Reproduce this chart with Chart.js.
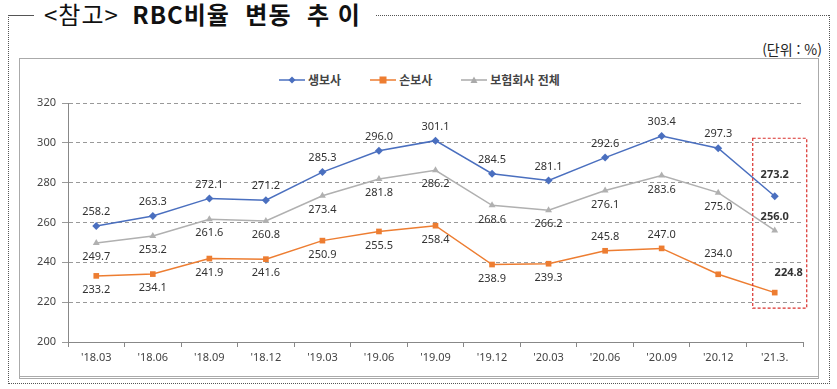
<!DOCTYPE html>
<html lang="ko">
<head>
<meta charset="UTF-8" />
<title>RBC비율 변동 추이</title>
<script src="https://cdn.jsdelivr.net/npm/chart.js"></script>
<style>
  body { margin: 0; background: #fff; font-family: "Noto Sans CJK KR", "Noto Sans", sans-serif; }
  #page { position: relative; width: 837px; height: 389px; overflow: hidden; }
  .frame { position: absolute; left: 8px; top: 15px; width: 820px; height: 368px;
           border-left: 1px dotted #555; border-right: 1px dotted #555; border-bottom: 1px dotted #555; }
  .topline-l { position: absolute; left: 8px; top: 15px; width: 26px; border-top: 1px solid #555; }
  .topline-r { position: absolute; left: 376px; top: 15px; width: 453px; border-top: 1px dotted #555; }
  .title { position: absolute; left: 44px; top: -1px; font-size: 24px; line-height: 30px; color: #111; white-space: pre; }
  .title .ref { letter-spacing: 1px; }
  .title b { font-weight: 700; letter-spacing: 1px; }
  .unit { position: absolute; right: 15px; top: 39px; font-size: 14px; color: #222; }
  .inner { position: absolute; left: 19px; top: 58px; width: 798px; height: 317px; border: 1px solid #aaa; border-bottom: 3px double #aaa; }
  .legend { position: absolute; top: 71px; left: 279px; font-size: 12px; font-weight: 700; color: #444; display: flex; }
  .legend span { display: flex; align-items: center; margin-right: 29px; }
  .legend svg { margin-right: 3px; }
  canvas { position: absolute; left: 0; top: 0; }
</style>
</head>
<body>
<div id="page">
  <div class="frame"></div>
  <div class="topline-l"></div>
  <div class="topline-r"></div>
  <div class="title"><span class="ref">&lt;참고&gt;</span>  <b>RBC비율  변동  추 이</b></div>
  <div class="unit">(단위 : %)</div>
  <div class="inner"></div>
  <div class="legend">
    <span><svg width="26" height="10"><line x1="0" y1="5" x2="26" y2="5" stroke="#4a6fbf" stroke-width="1.5"/><path d="M13 1.5 L16.5 5 L13 8.5 L9.5 5 Z" fill="#4a6fbf"/></svg>생보사</span>
    <span><svg width="26" height="10"><line x1="0" y1="5" x2="26" y2="5" stroke="#ed7d31" stroke-width="1.5"/><rect x="9.5" y="1.5" width="7" height="7" fill="#ed7d31"/></svg>손보사</span>
    <span><svg width="26" height="10"><line x1="0" y1="5" x2="26" y2="5" stroke="#aaa" stroke-width="1.5"/><path d="M13 1.5 L16.5 8 L9.5 8 Z" fill="#aaa"/></svg>보험회사 전체</span>
  </div>
  <canvas id="rbcChart" width="837" height="389"></canvas>
</div>

<script>
  const labels = ["'18.03", "'18.06", "'18.09", "'18.12", "'19.03", "'19.06", "'19.09", "'19.12", "'20.03", "'20.06", "'20.09", "'20.12", "'21.3."];
  const lifeIns = [258.2, 263.3, 272.1, 271.2, 285.3, 296.0, 301.1, 284.5, 281.1, 292.6, 303.4, 297.3, 273.2];
  const nonLifeIns = [233.2, 234.1, 241.9, 241.6, 250.9, 255.5, 258.4, 238.9, 239.3, 245.8, 247.0, 234.0, 224.8];
  const totalIns = [249.7, 253.2, 261.6, 260.8, 273.4, 281.8, 286.2, 268.6, 266.2, 276.1, 283.6, 275.0, 256.0];
  const yTicks = [200, 220, 240, 260, 280, 300, 320];

  // where each value label sits: 'a' above the point, 'b' below
  const lifePos = ['a','a','a','a','a','a','a','a','a','a','a','a','a'];
  const nonLifePos = ['b','b','b','b','b','b','b','b','b','a','a','a','a'];
  const totalPos = ['b','b','b','b','b','b','b','b','b','b','b','b','a'];

  // red dashed box around latest quarter (value range)
  const highlightTop = 302.3;
  const highlightBottom = 217;

  const labelPlugin = {
    id: 'valueLabels',
    afterDatasetsDraw(chart) {
      const ctx = chart.ctx;
      const posList = [lifePos, nonLifePos, totalPos];
      const last = labels.length - 1;
      ctx.save();
      ctx.textAlign = 'center';
      ctx.textBaseline = 'middle';
      chart.data.datasets.forEach((ds, di) => {
        const meta = chart.getDatasetMeta(di);
        meta.data.forEach((pt, i) => {
          const bold = i === last;
          ctx.font = (bold ? 'bold ' : '') + '11px "Noto Sans", sans-serif';
          ctx.fillStyle = '#333';
          let dy = posList[di][i] === 'a' ? -14 : 14;
          let dx = 0;
          if (bold && di === 0) dy = -21;
          if (bold && di === 1) { dy = -20; dx = 14; }
          if (di === 1 && i === 11) dy = -20;
          ctx.fillText(ds.data[i].toFixed(1), pt.x + dx, pt.y + dy);
        });
      });

      // highlight box
      const xs = chart.scales.x, ys = chart.scales.y;
      const cx = xs.getPixelForValue(last);
      const left = cx - 22, right = cx + 32;
      const top = ys.getPixelForValue(highlightTop), bottom = ys.getPixelForValue(highlightBottom);
      ctx.strokeStyle = '#d9302c';
      ctx.lineWidth = 1.2;
      ctx.setLineDash([3, 2]);
      ctx.strokeRect(left, top, right - left, bottom - top);
      ctx.restore();
    }
  };

  const ctx = document.getElementById('rbcChart').getContext('2d');
  new Chart(ctx, {
    type: 'line',
    data: {
      labels: labels,
      datasets: [
        { label: '생보사', data: lifeIns, borderColor: '#4a6fbf', backgroundColor: '#4a6fbf',
          borderWidth: 1.5, pointStyle: 'rectRot', pointRadius: 4, pointBorderWidth: 0, order: 1 },
        { label: '손보사', data: nonLifeIns, borderColor: '#ed7d31', backgroundColor: '#ed7d31',
          borderWidth: 1.5, pointStyle: 'rect', pointRadius: 4, pointBorderWidth: 0, order: 2 },
        { label: '보험회사 전체', data: totalIns, borderColor: '#b0b0b0', backgroundColor: '#b0b0b0',
          borderWidth: 1.5, pointStyle: 'triangle', pointRadius: 4, pointBorderWidth: 0, order: 3 }
      ]
    },
    options: {
      responsive: false,
      devicePixelRatio: 1,
      animation: false,
      layout: { padding: { left: 30, right: 34, top: 103, bottom: 17 } },
      plugins: { legend: { display: false }, tooltip: { enabled: false } },
      scales: {
        x: {
          offset: true,
          afterFit(s) { s.height = 30; },
          grid: { display: true, drawOnChartArea: false, offset: true, tickLength: 5, color: '#888' },
          border: { color: '#888' },
          ticks: { color: '#444', font: { size: 11, family: '"Noto Sans", sans-serif' }, padding: 4, maxRotation: 0 }
        },
        y: {
          min: 200, max: 320,
          afterFit(s) { s.width = 38; },
          afterBuildTicks(s) { s.ticks = yTicks.map(v => ({ value: v })); },
          grid: { color: '#999', tickLength: 6, tickBorderDash: [], drawTicks: true },
          border: { color: '#888', dash: [4, 3] },
          ticks: { color: '#444', font: { size: 11, family: '"Noto Sans", sans-serif' }, padding: 6 }
        }
      }
    },
    plugins: [labelPlugin]
  });
</script>
</body>
</html>
